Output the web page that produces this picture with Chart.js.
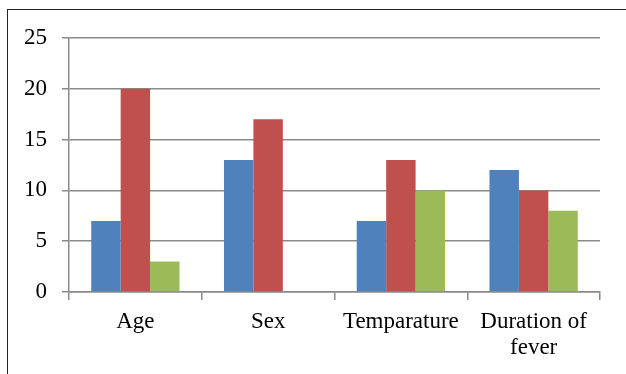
<!DOCTYPE html>
<html lang="en">
<head>
  <meta charset="UTF-8">
  <title>Chart</title>
  <script src="https://cdn.jsdelivr.net/npm/chart.js"></script>
  <style>
    body { margin: 0; background: #fff; }
    #quadro { position: absolute; left: 7px; top: 9px; width: 700px; height: 500px; border: 1.5px solid #222; }
    #grafico { position: absolute; left: 0; top: 0; width: 626px; height: 374px; }
  </style>
</head>
<body>
  <div id="quadro"></div>
  <div id="grafico"><canvas id="myChartCanvas" width="626" height="374"></canvas></div>

<script>
  // dados do gráfico
  var categorias = ['Age', 'Sex', 'Temparature', ['Duration of', 'fever']];
  var serie1 = [7, 13, 7, 12];
  var serie2 = [20, 17, 13, 10];
  var serie3 = [3, 0, 10, 8];
  var ticksY = [0, 5, 10, 15, 20, 25];

  var cinza = '#8a8a8a';
  var fonte = { family: 'Liberation Serif', size: 23, lineHeight: 1.17 };

  const config = {
    type: 'bar',
    data: {
      labels: categorias,
      datasets: [
        { label: 'Série 1', data: serie1, backgroundColor: '#4F81BD' },
        { label: 'Série 2', data: serie2, backgroundColor: '#C0504D' },
        { label: 'Série 3', data: serie3, backgroundColor: '#9BBB59' }
      ]
    },
    options: {
      responsive: false,
      animation: false,
      layout: { padding: { top: 38, right: 26, left: 0, bottom: 0 } },
      datasets: { bar: { categoryPercentage: 0.665, barPercentage: 1 } },
      plugins: { legend: { display: false }, tooltip: { enabled: false } },
      scales: {
        x: {
          grid: { drawOnChartArea: false, color: cinza, lineWidth: 1.5, tickLength: 8, offset: true },
          border: { color: cinza, width: 1.5 },
          ticks: { color: '#000', font: fonte, padding: 8, maxRotation: 0, autoSkip: false },
          afterFit: function (scale) { scale.height = 374 - 292; }
        },
        y: {
          min: 0,
          max: 25,
          afterBuildTicks: function (scale) { scale.ticks = ticksY.map(function (v) { return { value: v }; }); },
          grid: { color: cinza, lineWidth: 1.5, tickLength: 7 },
          border: { color: cinza, width: 1.5 },
          ticks: { color: '#000', font: fonte, padding: 15 },
          afterFit: function (scale) { scale.width = 69; }
        }
      }
    }
  };

  let myChart = new Chart(document.getElementById('myChartCanvas'), config);
</script>
</body>
</html>
